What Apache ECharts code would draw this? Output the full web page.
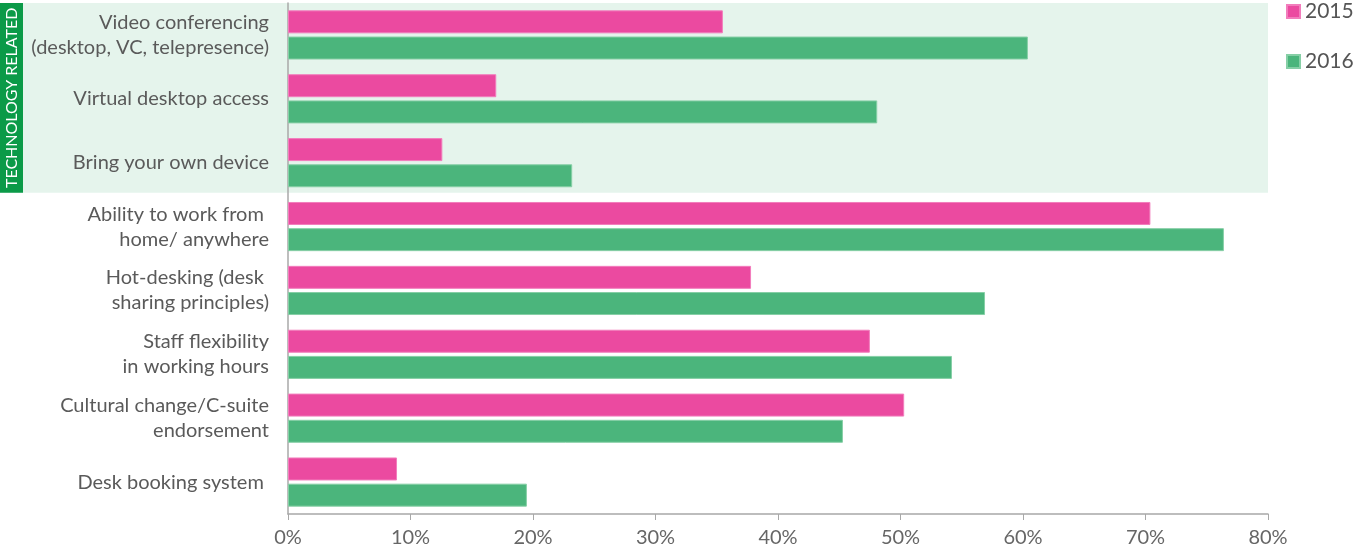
<!DOCTYPE html>
<html>
<head>
<meta charset="utf-8">
<script src="https://cdn.jsdelivr.net/npm/echarts@6/dist/echarts.min.js"></script>
<style>
  html, body { margin: 0; padding: 0; background: #fff; }
  #main { width: 1359px; height: 551px; }
</style>
</head>
<body>
<div id="main"></div>
<script>
var categories = [
    'Video conferencing\n(desktop, VC, telepresence)',
    'Virtual desktop access',
    'Bring your own device',
    'Ability to work from \nhome/ anywhere',
    'Hot-desking (desk \nsharing principles)',
    'Staff flexibility\nin working hours',
    'Cultural change/C-suite\nendorsement',
    'Desk booking system '
];
var values2015 = [35.5, 17.0, 12.6, 70.4, 37.8, 47.5, 50.3, 8.9];
var values2016 = [60.4, 48.1, 23.2, 76.4, 56.9, 54.2, 45.3, 19.5];
var xTicks = [0, 10, 20, 30, 40, 50, 60, 70, 80];
var techRows = 3;   // first three categories are technology related

var textFont = 'Lato';
var myChart = echarts.init(document.getElementById('main'));

var option = {
    backgroundColor: '#fff',
    animation: false,
    legend: {
        orient: 'vertical',
        left: 1286,
        top: 1,
        padding: 0,
        itemWidth: 13,
        itemHeight: 13,
        itemGap: 29,
        icon: 'rect',
        textStyle: { color: '#555', fontSize: 21, fontFamily: textFont },
        data: ['2015', '2016']
    },
    grid: { left: 288, right: 91, top: 3, bottom: 37 },
    xAxis: {
        type: 'value',
        min: xTicks[0],
        max: xTicks[xTicks.length - 1],
        interval: 10,
        splitLine: { show: false },
        axisLine: { show: true, lineStyle: { color: '#a8a8a8', width: 1.5 } },
        axisTick: { show: true, length: 6, lineStyle: { color: '#a8a8a8' } },
        axisLabel: {
            color: '#666', fontSize: 20, fontFamily: textFont, margin: 14,
            formatter: function (v) { return v + '%'; }
        }
    },
    yAxis: {
        type: 'category',
        inverse: true,
        data: categories,
        axisLine: { show: true, lineStyle: { color: '#a8a8a8', width: 1.5 } },
        axisTick: { show: false },
        axisLabel: {
            color: '#5a5a5a', fontSize: 20, fontFamily: textFont,
            lineHeight: 25, margin: 19, align: 'right'
        }
    },
    series: [
        {
            name: '2015', type: 'bar', data: values2015,
            barGap: '14%', barCategoryGap: '23%',
            itemStyle: { color: '#EB4AA0', borderColor: '#F27DBC', borderWidth: 1 },
            z: 3
        },
        {
            name: '2016', type: 'bar', data: values2016,
            barGap: '14%', barCategoryGap: '23%',
            itemStyle: { color: '#4BB57C', borderColor: '#86CFA6', borderWidth: 1 },
            z: 3
        }
    ]
};
myChart.setOption(option);

// technology band behind the first rows, sized from the category axis
function drawBand() {
    var y0 = myChart.convertToPixel({ yAxisIndex: 0 }, categories[0]);
    var y1 = myChart.convertToPixel({ yAxisIndex: 0 }, categories[1]);
    var step = y1 - y0;
    var top = y0 - step / 2;
    var bottom = y0 + step * (techRows - 0.5) - 2;
    var right = myChart.convertToPixel({ xAxisIndex: 0 }, xTicks[xTicks.length - 1]);
    myChart.setOption({
        graphic: [
            {
                type: 'rect', z: -10, silent: true,
                shape: { x: 0, y: top, width: right, height: bottom - top },
                style: { fill: '#E5F4EC' }
            },
            {
                type: 'rect', z: -5, silent: true,
                shape: { x: 0, y: top, width: 23, height: bottom - top },
                style: { fill: '#0B9A48' }
            },
            {
                type: 'text', z: -4, silent: true,
                x: 12, y: (top + bottom) / 2, rotation: Math.PI / 2,
                style: {
                    text: 'TECHNOLOGY RELATED', fill: '#fff',
                    font: '16px ' + textFont, align: 'center', verticalAlign: 'middle'
                }
            }
        ]
    });
}
drawBand();
</script>
</body>
</html>
